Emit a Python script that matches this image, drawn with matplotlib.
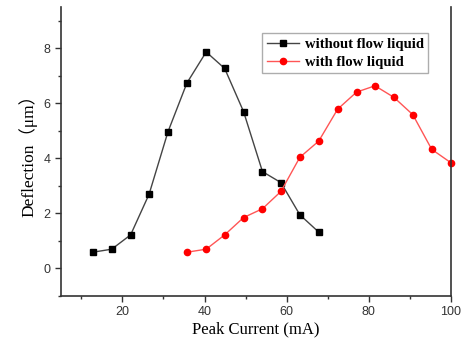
import matplotlib
matplotlib.use("Agg")
import matplotlib.pyplot as plt
from matplotlib.ticker import MultipleLocator

# data
x_dry = [12.8, 17.4, 22.0, 26.5, 31.1, 35.7, 40.4, 44.9, 49.5, 54.1, 58.6, 63.2, 67.8]
y_dry = [0.59, 0.70, 1.22, 2.70, 4.97, 6.74, 7.87, 7.27, 5.70, 3.52, 3.12, 1.95, 1.32]
x_flow = [35.7, 40.4, 44.9, 49.5, 54.1, 58.6, 63.2, 67.8, 72.4, 77.0, 81.5, 86.1, 90.7, 95.3, 99.9]
y_flow = [0.59, 0.70, 1.22, 1.85, 2.17, 2.80, 4.04, 4.63, 5.79, 6.41, 6.64, 6.22, 5.59, 4.33, 3.85]

fig = plt.figure(figsize=(4.64, 3.39), dpi=100)
ax = fig.add_axes([0.131, 0.127, 0.841, 0.852])

ax.plot(x_dry, y_dry, color='#444444', lw=1, marker='s', ms=4, mfc='black', mec='black',
        label='without flow liquid', clip_on=False)
ax.plot(x_flow, y_flow, color='#ff5555', lw=1, marker='o', ms=4.5, mfc='red', mec='red',
        label='with flow liquid', clip_on=False)

ax.set_xlim(5, 100)
ax.set_ylim(-1, 9.5)
ax.xaxis.set_major_locator(MultipleLocator(20))
ax.xaxis.set_minor_locator(MultipleLocator(10))
ax.yaxis.set_major_locator(MultipleLocator(2))
ax.yaxis.set_minor_locator(MultipleLocator(1))
ax.tick_params(which='both', direction='out', top=False, right=False,
               labelsize=9, width=1, colors='#333333')
ax.tick_params(which='major', length=4)
ax.tick_params(which='minor', length=2.5)
for lab in ax.get_xticklabels() + ax.get_yticklabels():
    lab.set_family('Liberation Sans')
ax.spines['top'].set_visible(False)
for s in ['left', 'right', 'bottom']:
    ax.spines[s].set_linewidth(1.2)
    ax.spines[s].set_color('#333333')

ax.set_xlabel('Peak Current (mA)', family='Liberation Serif', fontsize=12, labelpad=2)
ax.set_ylabel('Deflection（μm）', family=['Liberation Serif', 'Noto Sans CJK SC'],
              fontsize=12.5, labelpad=4)

leg = ax.legend(loc='upper right', bbox_to_anchor=(0.96, 0.935), fancybox=False,
                prop={'family': 'Liberation Serif', 'weight': 'bold', 'size': 10.5},
                handlelength=2.2, borderpad=0.3, labelspacing=0.35, handletextpad=0.4)
leg.get_frame().set_edgecolor('#999999')
leg.get_frame().set_linewidth(1)

plt.savefig('out.png', dpi=100)
